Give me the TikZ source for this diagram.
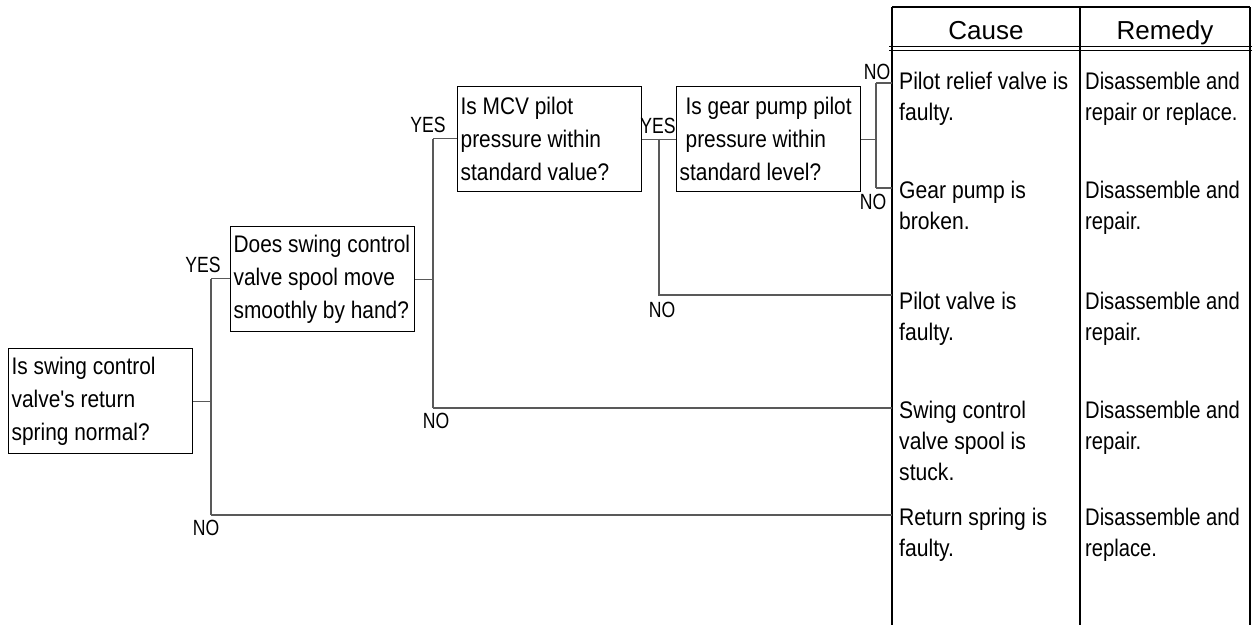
\documentclass[tikz,border=0pt]{standalone}
\usepackage{fontspec}
\setmainfont{Liberation Sans}
\newfontfamily\boxfont[FakeStretch=0.87]{Liberation Sans}
\newfontfamily\causefont[FakeStretch=0.88]{Liberation Sans}
\newfontfamily\remfont[FakeStretch=0.84]{Liberation Sans}
\newfontfamily\labfont[FakeStretch=0.8]{Liberation Sans}
\newfontfamily\headfont{Liberation Sans}
\newcommand{\fl}[1]{\makebox[178pt][l]{#1}}
\begin{document}
\begin{tikzpicture}[x=1pt,y=-1pt,
  qbox/.style={draw=black, line width=1.3pt, anchor=north west,
    inner xsep=3pt, inner ysep=0pt, minimum height=105pt, align=left,
    font=\boxfont\fontsize{24}{33}\selectfont},
  conn/.style={draw=black!65, line width=1.2pt},
  tline/.style={draw=black, line width=1.4pt},
  lab/.style={inner sep=0pt, font=\labfont\fontsize{22}{24}\selectfont},
  cell/.style={anchor=base west, inner sep=0pt, align=left,
    font=\causefont\fontsize{24}{31}\selectfont},
  rcell/.style={cell, font=\remfont\fontsize{24}{31}\selectfont},
  head/.style={anchor=base, inner sep=0pt, font=\headfont\fontsize{26}{30}\selectfont}]
\useasboundingbox (0,0) rectangle (1252,625);

% question boxes
\node[qbox] (q1) at (8,348) {\fl{Is swing control}\\valve's return\\spring normal?};
\node[qbox] (q2) at (230,226) {\fl{Does swing control}\\valve spool move\\smoothly by hand?};
\node[qbox] (q3) at (457,86) {\fl{Is MCV pilot}\\pressure within\\standard value?};
\node[qbox] (q4) at (676,86) {\fl{\hspace*{6pt}Is gear pump pilot}\\\hspace*{6pt}pressure within\\standard level?};

% table
\draw[tline] (892,7) -- (1250,7);
\draw[tline] (892,7) -- (892,625);
\draw[tline] (1080,7) -- (1080,625);
\draw[tline] (1250,7) -- (1250,625);
\draw[tline, line width=1pt] (889,46.5) -- (1252,46.5);
\draw[tline, line width=1pt] (889,50.5) -- (1252,50.5);
\node[head] (hc) at (986,39) {Cause};
\node[head] (hr) at (1165,39) {Remedy};

% table entry points
\coordinate (e1) at (892,83);
\coordinate (e2) at (892,188);
\coordinate (e3) at (892,295);
\coordinate (e4) at (892,408);
\coordinate (e5) at (892,515);

% causes (anchored at the baseline of the last line)
\node[cell] (c1) at (899,120) {Pilot relief valve is\\faulty.};
\node[cell] (c2) at (899,229) {Gear pump is\\broken.};
\node[cell] (c3) at (899,340) {Pilot valve is\\faulty.};
\node[cell] (c4) at (899,480) {Swing control\\valve spool is\\stuck.};
\node[cell] (c5) at (899,556) {Return spring is\\faulty.};
% remedies
\node[rcell] (r1) at (1085,120) {Disassemble and\\repair or replace.};
\node[rcell] (r2) at (1085,229) {Disassemble and\\repair.};
\node[rcell] (r3) at (1085,340) {Disassemble and\\repair.};
\node[rcell] (r4) at (1085,449) {Disassemble and\\repair.};
\node[rcell] (r5) at (1085,556) {Disassemble and\\replace.};

% junction coordinates
\coordinate (j1y) at (211,278.5);
\coordinate (j1n) at (211,515);
\coordinate (j2y) at (433,138.5);
\coordinate (j2n) at (433,408);
\coordinate (j3) at (659,138.5);
\coordinate (j3n) at (659,295);
\coordinate (j4a) at (876,83);
\coordinate (j4b) at (876,188);

% connectors
\draw[conn] (q1.east) -- (q1.east -| j1y);
\draw[conn] (j1y) -- (j1n);
\draw[conn] (j1y) -- (j1y -| q2.west);
\draw[conn] (j1n) -- (e5);

\draw[conn] (q2.east) -- (q2.east -| j2y);
\draw[conn] (j2y) -- (j2n);
\draw[conn] (j2y) -- (j2y -| q3.west);
\draw[conn] (j2n) -- (e4);

\draw[conn] (q3.east) -- (q4.west);
\draw[conn] (j3) -- (j3n) -- (e3);

\draw[conn] (q4.east) -- (q4.east -| j4a);
\draw[conn] (j4a) -- (j4b);
\draw[conn] (j4a) -- (e1);
\draw[conn] (j4b) -- (e2);

% labels
\node[lab] (y1) at (203,265) {YES};
\node[lab] (n1) at (206,528) {NO};
\node[lab] (y2) at (428,125) {YES};
\node[lab] (n2) at (436,421) {NO};
\node[lab] (y3) at (658,126) {YES};
\node[lab] (n3) at (662,310) {NO};
\node[lab] (n4) at (877,72) {NO};
\node[lab] (n5) at (873,202) {NO};
\end{tikzpicture}
\end{document}
